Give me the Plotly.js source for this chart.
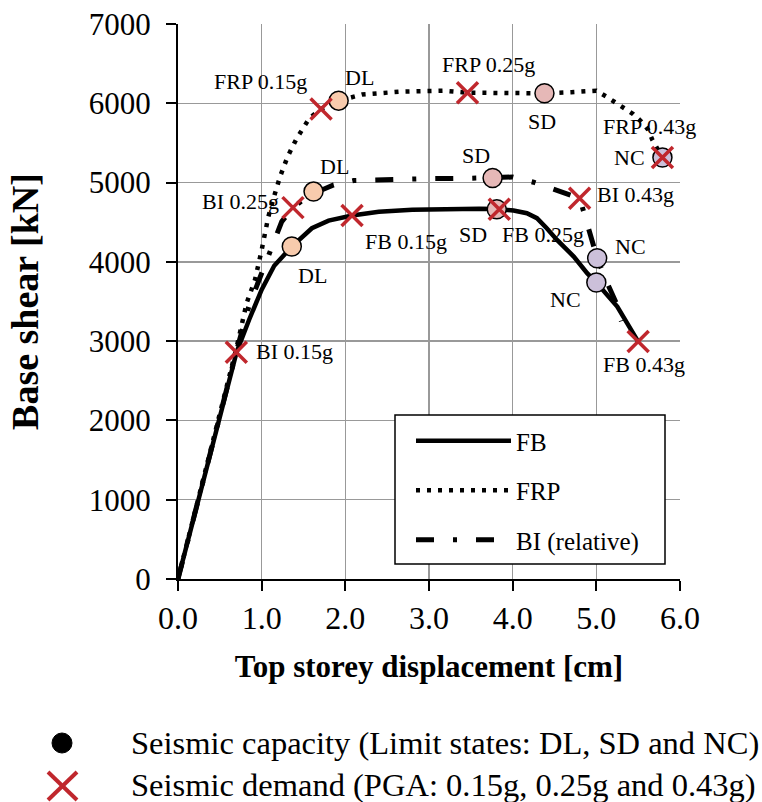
<!DOCTYPE html>
<html><head><meta charset="utf-8">
<script src="https://cdn.plot.ly/plotly-3.0.1.min.js"></script>
<style>html,body{margin:0;padding:0;background:#fff}</style>
</head><body><div id="chart" style="width:762px;height:802px"></div>
<script>
// ---- data ----
const xTicks = [0, 1, 2, 3, 4, 5, 6];
const xTickText = ['0.0', '1.0', '2.0', '3.0', '4.0', '5.0', '6.0'];
const yTicks = [0, 1000, 2000, 3000, 4000, 5000, 6000, 7000];
const yTickText = ['0', '1000', '2000', '3000', '4000', '5000', '6000', '7000'];

// Capacity curves
const fbX = [0, 0.24, 0.49, 0.70, 0.85, 1.0, 1.15, 1.36, 1.6, 1.8, 2.08, 2.4, 2.8, 3.2, 3.6, 3.84, 4.01, 4.17, 4.29, 4.41, 4.53, 4.73, 4.89, 5.0, 5.25, 5.5];
const fbY = [0, 1000, 2000, 2861, 3270, 3650, 3950, 4193, 4424, 4520, 4584, 4632, 4658, 4668, 4670, 4666, 4647, 4614, 4551, 4420, 4277, 4067, 3857, 3739, 3436, 2995];

const frpX = [0, 0.24, 0.49, 0.70, 0.82, 0.92, 1.0, 1.08, 1.16, 1.22, 1.31, 1.42, 1.57, 1.71, 1.92, 2.2, 2.66, 3.17, 3.46, 4.0, 4.38, 4.7, 5.0, 5.12, 5.22, 5.34, 5.44, 5.54, 5.62, 5.67, 5.79];
const frpY = [0, 1000, 2030, 2920, 3479, 3773, 4150, 4571, 4866, 5075, 5327, 5559, 5811, 5928, 6033, 6110, 6147, 6159, 6134, 6128, 6126, 6140, 6159, 6084, 6020, 5937, 5865, 5768, 5664, 5538, 5315];

const biX = [0, 0.24, 0.49, 0.70, 0.85, 0.98, 1.08, 1.18, 1.24, 1.374, 1.62, 1.74, 1.86, 2.1, 2.5, 3.0, 3.5, 3.76, 4.0, 4.25, 4.47, 4.69, 4.80, 4.84, 4.91, 4.97, 5.01, 5.14, 5.23, 5.30];
const biY = [0, 1000, 2000, 2880, 3450, 3800, 4109, 4361, 4508, 4684, 4886, 4916, 4970, 5025, 5042, 5050, 5055, 5058, 5070, 5004, 4929, 4844, 4803, 4664, 4425, 4214, 4046, 3710, 3499, 3250];

// Seismic capacity (limit states) – order: FB, FRP, BI
const dlX = [1.36, 1.92, 1.62];
const dlY = [4193, 6033, 4886];
const sdX = [3.81, 4.38, 3.76];
const sdY = [4664, 6126, 5058];
const ncX = [5.00, 5.79, 5.01];
const ncY = [3739, 5315, 4046];

// Seismic demand (PGA) – order: FB, FRP, BI
const pga015X = [2.08, 1.71, 0.697];
const pga015Y = [4584, 5928, 2861];
const pga025X = [3.84, 3.46, 1.374];
const pga025Y = [4664, 6134, 4684];
const pga043X = [5.50, 5.79, 4.80];
const pga043Y = [2995, 5315, 4803];

// Point labels
const lblText = ['FRP 0.15g', 'DL', 'FRP 0.25g', 'SD', 'FRP 0.43g', 'NC', 'SD', 'BI 0.43g', 'DL', 'BI 0.25g', 'DL', 'FB 0.15g', 'BI 0.15g', 'SD', 'FB 0.25g', 'NC', 'NC', 'FB 0.43g'];
const lblX = [0.983, 2.166, 3.707, 4.352, 5.631, 5.392, 3.564, 5.463, 1.868, 0.744, 1.605, 2.728, 1.390, 3.528, 4.364, 5.404, 4.627, 5.571];
const lblY = [6271, 6319, 6483, 5765, 5702, 5312, 5336, 4844, 5198, 4756, 3823, 4252, 2865, 4340, 4340, 4189, 3521, 2702];

const legendNames = ['FB', 'FRP', 'BI (relative)'];
const keyTexts = ['Seismic capacity (Limit states: DL, SD and NC)', 'Seismic demand (PGA: 0.15g, 0.25g and 0.43g)'];

// ---- styling ----
const SERIF = '"Liberation Serif", "Times New Roman", Times, serif';
const RED = '#C0272D';
const W = 762, H = 802, L = 178, R = 680, T = 24, B = 579;
const px = v => (v - L) / (R - L);
const py = v => (B - v) / (B - T);

const traces = [
  {x: fbX, y: fbY, mode: 'lines', name: legendNames[0], legendgroup: 'a',
   line: {color: 'black', width: 4.5}},
  {x: frpX, y: frpY, mode: 'lines', name: legendNames[1], legendgroup: 'b',
   line: {color: 'black', width: 4.5, dash: '4px,7px'}},
  {x: biX, y: biY, mode: 'lines', name: legendNames[2], legendgroup: 'c',
   line: {color: 'black', width: 5, dash: '18px,19px,4px,19px'}},
];
const circ = (xs, ys, col) => ({x: xs, y: ys, mode: 'markers', showlegend: false,
  marker: {symbol: 'circle', size: 19, color: col, line: {color: 'black', width: 1.5}}});
traces.push(circ(dlX, dlY, '#F8CBAD'));
traces.push(circ(sdX, sdY, '#E6B8B7'));
traces.push(circ(ncX, ncY, '#CCC0DA'));
const cross = (xs, ys) => ({x: xs, y: ys, mode: 'markers', showlegend: false,
  marker: {symbol: 'x-thin-open', size: 21, color: RED, line: {color: RED, width: 3.5}}});
traces.push(cross(pga015X, pga015Y));
traces.push(cross(pga025X, pga025Y));
traces.push(cross(pga043X, pga043Y));

const annotations = lblText.map((t, i) => ({
  x: lblX[i], y: lblY[i], xref: 'x', yref: 'y', text: t, showarrow: false,
  xanchor: 'center', yanchor: 'middle', font: {family: SERIF, size: 22, color: 'black'}
}));
annotations.push({x: px(129), y: py(743), xref: 'paper', yref: 'paper', text: keyTexts[0],
  showarrow: false, xanchor: 'left', yanchor: 'middle', font: {family: SERIF, size: 32.5, color: 'black'}});
annotations.push({x: px(129), y: py(785), xref: 'paper', yref: 'paper', text: keyTexts[1],
  showarrow: false, xanchor: 'left', yanchor: 'middle', font: {family: SERIF, size: 32.5, color: 'black'}});

const shapes = [
  {type: 'rect', xref: 'paper', yref: 'paper', x0: px(395), x1: px(665), y0: py(564), y1: py(415),
   line: {color: 'black', width: 1.5}, fillcolor: 'white', layer: 'above'},
  {type: 'circle', xref: 'paper', yref: 'paper', x0: px(52), x1: px(72), y0: py(753), y1: py(733),
   line: {color: 'black', width: 1}, fillcolor: 'black'},
  {type: 'line', xref: 'paper', yref: 'paper', x0: px(48), x1: px(77), y0: py(772), y1: py(800),
   line: {color: RED, width: 4}},
  {type: 'line', xref: 'paper', yref: 'paper', x0: px(48), x1: px(77), y0: py(800), y1: py(772),
   line: {color: RED, width: 4}},
];

const axisCommon = {
  showgrid: true, gridcolor: '#999999', gridwidth: 1.5,
  showline: true, linecolor: 'black', linewidth: 2,
  ticks: 'outside', ticklen: 10, tickwidth: 2, tickcolor: 'black',
  zeroline: false, fixedrange: true
};

const layout = {
  width: W, height: H,
  margin: {l: L, r: W - R, t: T, b: H - B, pad: 0},
  paper_bgcolor: 'white', plot_bgcolor: 'white',
  font: {family: SERIF, color: 'black'},
  xaxis: Object.assign({}, axisCommon, {
    range: [0, 6], tickmode: 'array', tickvals: xTicks, ticktext: xTickText,
    tickfont: {family: SERIF, size: 32, color: 'black'},
    title: {text: '<b>Top storey displacement [cm]</b>', font: {family: SERIF, size: 31}, standoff: 20}
  }),
  yaxis: Object.assign({}, axisCommon, {
    range: [0, 7000], tickmode: 'array', tickvals: yTicks, ticktext: yTickText,
    tickfont: {family: SERIF, size: 31, color: 'black'}, ticklabelstandoff: 9,
    title: {text: '<b>Base shear [kN]</b>', font: {family: SERIF, size: 38}, standoff: 38}
  }),
  showlegend: true,
  legend: {x: px(411), xanchor: 'left', y: py(418), yanchor: 'top', bgcolor: 'rgba(0,0,0,0)',
    borderwidth: 0, font: {family: SERIF, size: 25, color: 'black'}, itemwidth: 95, tracegroupgap: 14},
  annotations: annotations,
  shapes: shapes
};

Plotly.newPlot('chart', traces, layout, {staticPlot: true, displayModeBar: false});
</script></body></html>
